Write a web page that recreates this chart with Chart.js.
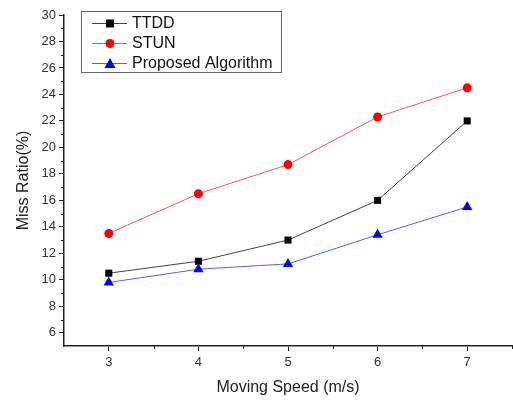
<!DOCTYPE html>
<html>
<head>
<meta charset="utf-8">
<script src="https://cdn.jsdelivr.net/npm/chart.js@4/dist/chart.umd.min.js"></script>
<style>
  html, body { margin: 0; padding: 0; background: #fff; }
  #wrap { width: 513px; height: 401px; }
</style>
</head>
<body>
<div id="wrap"><canvas id="chart"></canvas></div>
<script>
// data
const speeds = [3, 4, 5, 6, 7];
const ttdd = [10.5, 11.4, 13.0, 16.0, 22.0];
const stun = [13.5, 16.5, 18.7, 22.3, 24.5];
const proposed = [9.8, 10.8, 11.2, 13.4, 15.5];
const seriesNames = ['TTDD', 'STUN', 'Proposed Algorithm'];
const xTicks = [3, 4, 5, 6, 7];
const yTicks = [6, 8, 10, 12, 14, 16, 18, 20, 22, 24, 26, 28, 30];

const FONT = '"Liberation Sans", Arial, sans-serif';
const pts = (vals) => speeds.map((x, i) => ({ x: x, y: vals[i] }));

// minor ticks + boxed legend, drawn like the Origin plot
const extras = {
  id: 'extras',
  afterDraw(chart) {
    const ctx = chart.ctx;
    const xs = chart.scales.x, ys = chart.scales.y;
    const area = chart.chartArea;
    ctx.save();
    ctx.strokeStyle = '#222';
    ctx.lineWidth = 1;
    ctx.beginPath();
    for (let v = 3.5; v <= 7.5; v += 1) {
      const px = Math.round(xs.getPixelForValue(v)) + 0.5;
      ctx.moveTo(px, area.bottom);
      ctx.lineTo(px, area.bottom + 3);
    }
    for (let v = 7; v <= 29; v += 2) {
      const py = Math.round(ys.getPixelForValue(v)) + 0.5;
      ctx.moveTo(area.left, py);
      ctx.lineTo(area.left - 3, py);
    }
    ctx.stroke();

    // legend box
    const bx = 81.5, by = 11.5, bw = 200, bh = 61;
    ctx.strokeStyle = '#666';
    ctx.strokeRect(bx, by, bw, bh);
    ctx.font = '16px ' + FONT;
    ctx.textBaseline = 'middle';
    chart.data.datasets.forEach((ds, i) => {
      const y = 23 + i * 20;
      ctx.strokeStyle = ds.borderColor;
      ctx.lineWidth = 1;
      ctx.beginPath();
      ctx.moveTo(92, y + 0.5);
      ctx.lineTo(127, y + 0.5);
      ctx.stroke();
      ctx.fillStyle = ds.pointBackgroundColor;
      ctx.beginPath();
      if (ds.pointStyle === 'rect') {
        ctx.rect(106, y - 3.5, 8, 8);
      } else if (ds.pointStyle === 'circle') {
        ctx.arc(110, y + 0.5, 4.5, 0, Math.PI * 2);
      } else {
        ctx.moveTo(110, y - 5);
        ctx.lineTo(115.5, y + 5);
        ctx.lineTo(104.5, y + 5);
        ctx.closePath();
      }
      ctx.fill();
      ctx.fillStyle = '#111';
      ctx.fillText(ds.label, 132, y + 1);
    });
    ctx.restore();
  }
};

new Chart(document.getElementById('chart'), {
  type: 'scatter',
  data: {
    datasets: [
      {
        label: seriesNames[0], data: pts(ttdd), showLine: true,
        borderColor: '#444', borderWidth: 1,
        pointStyle: 'rect', pointRadius: 5, pointBackgroundColor: '#000', pointBorderWidth: 0
      },
      {
        label: seriesNames[1], data: pts(stun), showLine: true,
        borderColor: '#ff5060', borderWidth: 1,
        pointStyle: 'circle', pointRadius: 4.5, pointBackgroundColor: '#ff0000', pointBorderWidth: 0
      },
      {
        label: seriesNames[2], data: pts(proposed), showLine: true,
        borderColor: '#5060ff', borderWidth: 1,
        pointStyle: 'triangle', pointRadius: 6, pointBackgroundColor: '#0000ff', pointBorderWidth: 0
      }
    ]
  },
  options: {
    responsive: true,
    maintainAspectRatio: false,
    animation: false,
    layout: { autoPadding: false, padding: { top: 15, right: 1, left: 0, bottom: 0 } },
    plugins: { legend: { display: false }, tooltip: { enabled: false } },
    scales: {
      x: {
        type: 'linear', min: 2.5, max: 7.5,
        afterBuildTicks: (s) => { s.ticks = xTicks.map(v => ({ value: v })); },
        afterFit: (s) => { s.height = 55; s.paddingRight = 0; s.paddingLeft = 0; },
        border: { color: '#222', width: 1.5 },
        grid: { drawOnChartArea: false, tickLength: 5, color: '#222' },
        ticks: { color: '#333', font: { size: 13, family: FONT }, padding: 4 },
        title: { display: true, text: 'Moving Speed (m/s)', color: '#222',
                 font: { size: 16, family: FONT }, padding: { top: 8 } }
      },
      y: {
        type: 'linear', min: 5, max: 30,
        afterBuildTicks: (s) => { s.ticks = yTicks.map(v => ({ value: v })); },
        afterFit: (s) => { s.width = 64; },
        border: { color: '#222', width: 1.5 },
        grid: { drawOnChartArea: false, tickLength: 5, color: '#222' },
        ticks: { color: '#333', font: { size: 13, family: FONT }, padding: 3 },
        title: { display: true, text: 'Miss Ratio(%)', color: '#222',
                 font: { size: 16, family: FONT }, padding: { top: 14, bottom: 4 } }
      }
    }
  },
  plugins: [extras]
});
</script>
</body>
</html>
